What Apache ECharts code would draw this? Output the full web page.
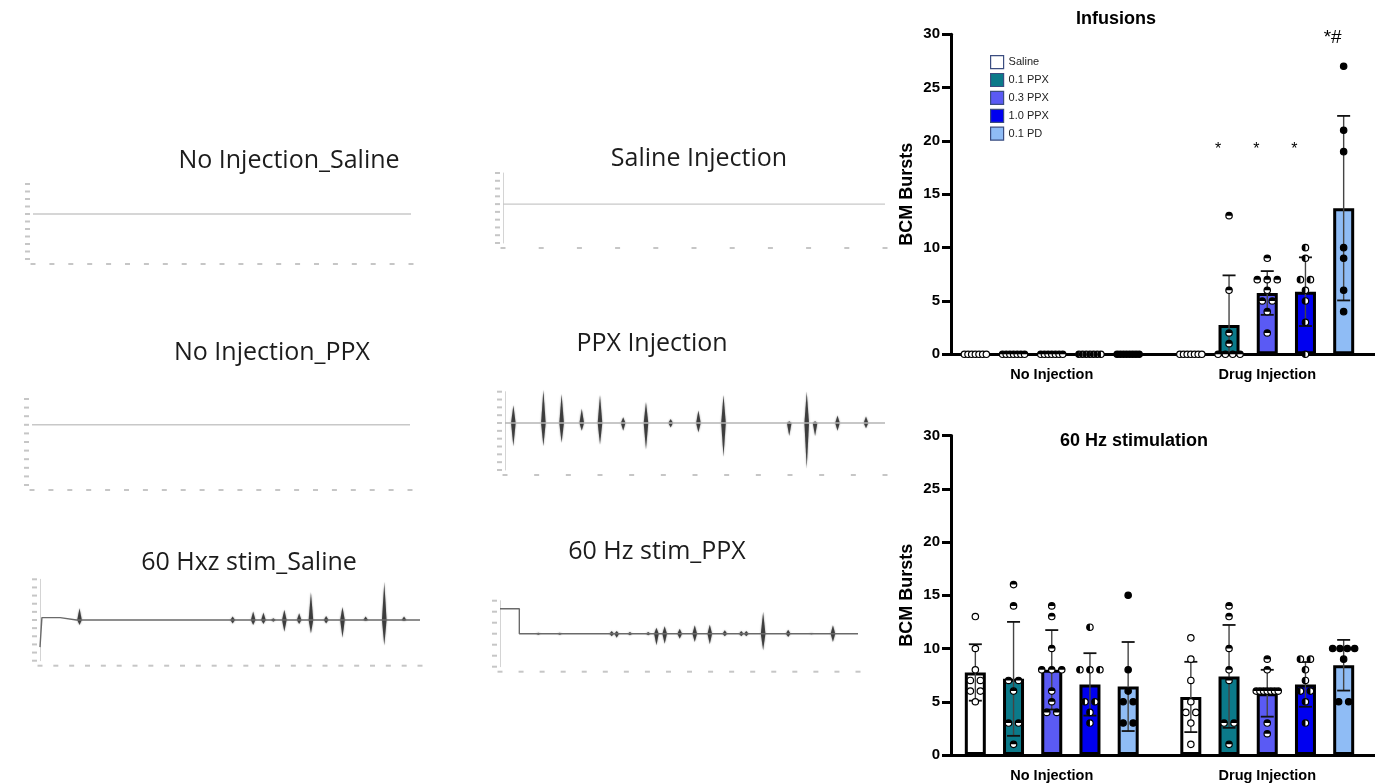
<!DOCTYPE html>
<html>
<head>
<meta charset="utf-8">
<title>BCM bursts</title>
<script src="https://cdn.jsdelivr.net/npm/echarts@6/dist/echarts.min.js"></script>
<style>
html, body { margin: 0; padding: 0; background: #fff; }
#main { width: 1375px; height: 783px; }
</style>
</head>
<body>
<div id="main"></div>
<script>
// groups and categories of the two bar charts
var groups = ['Saline', '0.1 PPX', '0.3 PPX', '1.0 PPX', '0.1 PD'];
var categories = ['No Injection', 'Drug Injection'];
var yMin = 0, yMax = 30, yStep = 5;

// Infusions: per group, [No Injection, Drug Injection]
var infMean = [[0, 0], [0, 2.75], [0, 5.75], [0, 5.87], [0, 13.7]];
var infSD = [[0, 0], [0, 4.65], [0, 2.05], [0, 3.22], [0, 8.65]];
var infPoints = [
    [[0, 0, 0, 0, 0, 0, 0], [0, 0, 0, 0, 0, 0, 0]],
    [[0, 0, 0, 0, 0, 0, 0], [13, 6, 2, 1, 0, 0, 0, 0]],
    [[0, 0, 0, 0, 0, 0, 0], [9, 7, 7, 7, 6, 5, 5, 4, 2]],
    [[0, 0, 0, 0, 0, 0, 0], [10, 9, 7, 7, 6, 5, 3, 0]],
    [[0, 0, 0, 0, 0, 0, 0, 0], [27, 21, 19, 10, 9, 6, 4]]
];
var sigMarks = ['', '*', '*', '*', '*#'];
var sigLevel = [0, 19.2, 19.2, 19.2, 29.7];

// 60 Hz stimulation
var stimMean = [[7.75, 5.45], [7.15, 7.38], [8.0, 5.8], [6.63, 6.63], [6.43, 8.43]];
var stimSD = [[2.65, 3.3], [5.35, 4.83], [3.73, 2.2], [2.93, 2.1], [4.18, 2.38]];
var stimPoints = [
    [[13, 10, 8, 7, 7, 6, 6, 5], [11, 9, 7, 5, 4, 4, 3, 1]],
    [[16, 14, 7, 7, 6, 3, 3, 1], [14, 13, 10, 8, 7, 3, 3, 1]],
    [[14, 13, 10, 8, 8, 8, 6, 5, 4, 4], [9, 8, 6, 6, 6, 6, 6, 6, 6, 3, 2]],
    [[12, 8, 8, 8, 5, 5, 4, 3], [9, 9, 8, 7, 6, 6, 5, 3]],
    [[15, 8, 6, 5, 5, 3, 3], [10, 10, 10, 10, 9, 5, 5]]
];

// recording traces: title, baseline [t, v], bursts [t, top, bottom], y range
var traceTitles = ['No Injection_Saline', 'Saline Injection', 'No Injection_PPX',
    'PPX Injection', '60 Hxz stim_Saline', '60 Hz stim_PPX'];
var traceBase = [
    [[0, 0], [100, 0]],
    [[0, 0], [100, 0]],
    [[0, 0], [100, 0]],
    [[0, 0], [100, 0]],
    [[0, -80], [0.5, -80], [0.5, 7], [5.3, 7], [9.6, 0], [100, 0]],
    [[0, 75], [5.4, 75], [5.4, 0], [100, 0]]
];
var traceBursts = [
    [], [], [],
    [[2.2, 52, -68], [10.1, 97, -68], [14.9, 85, -58], [20.2, 42, -23], [25, 82, -63],
     [31.1, 17, -23], [37.1, 62, -78], [43.6, 12, -13], [50.9, 37, -28], [57.5, 82, -98],
     [74.8, 5, -38], [79.4, 92, -133], [81.6, 5, -38], [87.5, 22, -23], [95, 19, -15]],
    [[10.4, 35, -15], [50.7, 10, -10], [56.1, 25, -15], [58.8, 22, -12], [61.4, 5, -5],
     [64.3, 30, -35], [68.2, 20, -12], [71.3, 82, -40], [75.3, 12, -10], [79.6, 38, -52],
     [85.7, 10, -3], [90.6, 112, -75], [95.8, 10, -3]],
    [[10.7, 3, -3], [16.7, 3, -3], [31.2, 8, -8], [32.6, 8, -12], [36.3, 5, -5],
     [41.4, 5, -5], [43.7, 18, -35], [46, 22, -30], [50.2, 15, -15], [54.4, 25, -25],
     [58.6, 27, -32], [62.8, 10, -8], [67.4, 8, -8], [68.8, 8, -8], [73.5, 65, -50],
     [80.5, 12, -10], [87, 2, -2], [93, 25, -25]]
];
var traceY = [[-60, 40, 10], [-50, 40, 10], [-70, 30, 10], [-138, 92, 23], [-120, 120, 24], [-99, 99, 33]];
var traceXStep = [5, 10, 5, 100 / 12, 100 / 24, 100 / 17];

// layout
var traceGrids = [
    {left: 33, top: 184, width: 378, height: 75},
    {left: 503, top: 173, width: 382, height: 70},
    {left: 32, top: 399, width: 378, height: 86},
    {left: 505, top: 391.7, width: 380, height: 78.3},
    {left: 40, top: 579.3, width: 380, height: 81.4},
    {left: 500, top: 600.7, width: 358, height: 66}
];
var traceTitleCenter = [[289, 160], [699, 158], [272, 352], [652, 343], [249, 562], [657, 551]];
var traceLine = ['#c8c8c8', '#c8c8c8', '#c8c8c8', '#b4b4b4', '#6a6a6a', '#6a6a6a'];
var traceAxisLine = [false, true, false, true, true, true];

var groupColors = ['#ffffff', '#0b7a8a', '#5a5af4', '#0000f0', '#8fbcf5'];
var barWidth = 21, barStep = 38.2;
var boldFont = 'Liberation Sans';

var chart = echarts.init(document.getElementById('main'));

// GraphPad style scatter: equal values are put side by side
var spread = function(values) {
    var counts = {}, seen = {}, out = [];
    values.forEach(function(v) { counts[v] = (counts[v] || 0) + 1; });
    values.forEach(function(v) {
        var n = counts[v];
        seen[v] = seen[v] === undefined ? 0 : seen[v] + 1;
        var gap = n > 1 ? Math.min(10, 22 / (n - 1)) : 0;
        out.push([v, (seen[v] - (n - 1) / 2) * gap]);
    });
    return out;
};

var renderErr = function(params, api) {
    var ci = api.value(0), mean = api.value(1), g = api.value(2), sd = api.value(3);
    if (!sd) return null;
    var x = api.coord([ci, mean])[0] + (g - 2) * barStep;
    var yHi = api.coord([ci, mean + sd])[1];
    var low = mean - sd;
    var yLo = api.coord([ci, Math.max(low, 0)])[1];
    var cap = 6.5;
    var kids = [
        {type: 'line', shape: {x1: x, y1: yHi, x2: x, y2: yLo}, style: {stroke: '#444', lineWidth: 1.4}},
        {type: 'line', shape: {x1: x - cap, y1: yHi, x2: x + cap, y2: yHi}, style: {stroke: '#111', lineWidth: 1.8}}
    ];
    if (low > 0) {
        kids.push({type: 'line', shape: {x1: x - cap, y1: yLo, x2: x + cap, y2: yLo}, style: {stroke: '#111', lineWidth: 1.8}});
    }
    return {type: 'group', children: kids};
};

var renderPoint = function(params, api) {
    var c = api.coord([api.value(0), api.value(1)]);
    var g = api.value(2);
    var x = c[0] + (g - 2) * barStep + api.value(3);
    var r = 3.2;
    var kids = [{type: 'circle', shape: {cx: x, cy: c[1], r: r},
        style: {fill: g === 4 ? '#000' : '#fff', stroke: '#000', lineWidth: 1.2}}];
    if (g === 1 || g === 2) {
        kids.push({type: 'sector', shape: {cx: x, cy: c[1], r0: 0, r: r, startAngle: Math.PI, endAngle: 2 * Math.PI}, style: {fill: '#000'}});
    } else if (g === 3) {
        kids.push({type: 'sector', shape: {cx: x, cy: c[1], r0: 0, r: r, startAngle: Math.PI / 2, endAngle: 3 * Math.PI / 2}, style: {fill: '#000'}});
    }
    return {type: 'group', children: kids};
};

var renderSig = function(params, api) {
    var g = api.value(2);
    var c = api.coord([api.value(0), api.value(1)]);
    return {type: 'text', x: c[0] + (g - 2) * barStep - 11, y: c[1],
        style: {text: sigMarks[g], fill: '#000', font: (g === 4 ? '19px ' : '16px ') + boldFont,
            align: 'center', verticalAlign: 'middle'}};
};

var renderBurst = function(params, api) {
    var mid = api.coord([api.value(0), 0]);
    var top = api.coord([api.value(0), api.value(1)]);
    var bot = api.coord([api.value(0), api.value(2)]);
    var w = 2.3;
    return {type: 'polygon',
        shape: {points: [[mid[0], top[1]], [mid[0] + w, mid[1]], [mid[0], bot[1]], [mid[0] - w, mid[1]]]},
        style: {fill: '#2b2b2b', opacity: 0.85, shadowBlur: 2, shadowColor: 'rgba(0,0,0,0.5)'}};
};

var smudge = {s: {width: 5, height: 2, backgroundColor: '#c6c6c6', fontSize: 2}};

var grids = [], xAxes = [], yAxes = [], series = [], titles = [];

traceTitles.forEach(function(t, i) {
    grids.push(traceGrids[i]);
    titles.push({text: t, left: traceTitleCenter[i][0], top: traceTitleCenter[i][1] - 12, textAlign: 'center', padding: 0,
        textStyle: {fontFamily: 'Open Sans', fontWeight: 'normal', fontSize: 25, color: '#1c1c1c'}});
    xAxes.push({type: 'value', gridIndex: i, min: 0, max: 100, interval: traceXStep[i],
        axisLine: {show: false}, axisTick: {show: false}, splitLine: {show: false},
        axisLabel: {margin: 4, formatter: function() { return '{s| }'; }, rich: smudge}});
    yAxes.push({type: 'value', gridIndex: i, min: traceY[i][0], max: traceY[i][1], interval: traceY[i][2],
        axisLine: {show: traceAxisLine[i], lineStyle: {color: '#d4d4d4', width: 1}},
        axisTick: {show: false}, splitLine: {show: false},
        axisLabel: {margin: 3, formatter: function() { return '{s| }'; }, rich: smudge}});
    series.push({type: 'line', xAxisIndex: i, yAxisIndex: i, data: traceBase[i], symbol: 'none',
        lineStyle: {color: traceLine[i], width: 1.4}, silent: true});
    if (traceBursts[i].length) {
        series.push({type: 'custom', xAxisIndex: i, yAxisIndex: i, renderItem: renderBurst,
            data: traceBursts[i], encode: {x: 0, y: [1, 2]}, silent: true});
    }
});

var barChart = function(ai, top, title, titleX, titleTop, means, sds, points) {
    grids.push({left: 944, top: top, width: 434, height: 320});
    titles.push({text: title, left: titleX, top: titleTop, textAlign: 'center', padding: 0,
        textStyle: {fontFamily: boldFont, fontWeight: 'bold', fontSize: 18, color: '#000'}});
    xAxes.push({type: 'category', gridIndex: ai, data: categories,
        axisLine: {lineStyle: {color: '#000', width: 3}},
        axisTick: {alignWithLabel: true, length: 7, lineStyle: {color: '#000', width: 3}},
        axisLabel: {color: '#000', fontWeight: 'bold', fontSize: 14.5, fontFamily: boldFont, margin: 13}});
    yAxes.push({type: 'value', gridIndex: ai, min: yMin, max: yMax, interval: yStep, offset: -7,
        name: 'BCM Bursts', nameLocation: 'middle', nameGap: 35,
        nameTextStyle: {fontSize: 18, fontWeight: 'bold', color: '#000', fontFamily: boldFont},
        axisLine: {show: true, lineStyle: {color: '#000', width: 3}},
        axisTick: {show: true, length: 9, lineStyle: {color: '#000', width: 3}},
        axisLabel: {color: '#000', fontWeight: 'bold', fontSize: 15, fontFamily: boldFont, margin: 11},
        splitLine: {show: false}});
    groups.forEach(function(name, g) {
        series.push({name: name, type: 'bar', xAxisIndex: ai, yAxisIndex: ai, barWidth: barWidth, barGap: '82%',
            data: means[g], itemStyle: {color: groupColors[g], borderColor: '#000', borderWidth: 3}, silent: true});
    });
    var errData = [], ptData = [];
    groups.forEach(function(name, g) {
        categories.forEach(function(c, ci) {
            errData.push([ci, means[g][ci], g, sds[g][ci]]);
            spread(points[g][ci]).forEach(function(p) { ptData.push([ci, p[0], g, p[1]]); });
        });
    });
    series.push({type: 'custom', xAxisIndex: ai, yAxisIndex: ai, renderItem: renderErr, data: errData,
        encode: {x: 0, y: 1}, z: 3, silent: true});
    series.push({type: 'custom', xAxisIndex: ai, yAxisIndex: ai, renderItem: renderPoint, data: ptData,
        encode: {x: 0, y: 1}, z: 4, silent: true});
};

barChart(6, 34.3, 'Infusions', 1116, 10, infMean, infSD, infPoints);
barChart(7, 435.5, '60 Hz stimulation', 1134, 432, stimMean, stimSD, stimPoints);

var sigData = [];
sigMarks.forEach(function(m, g) { if (m) sigData.push([1, sigLevel[g], g]); });
series.push({type: 'custom', xAxisIndex: 6, yAxisIndex: 6, renderItem: renderSig, data: sigData,
    encode: {x: 0, y: 1}, z: 5, silent: true});

option = {
    backgroundColor: '#fff',
    animation: false,
    title: titles,
    legend: {
        data: groups, orient: 'vertical', left: 990, top: 55, padding: 0,
        itemWidth: 13, itemHeight: 13, itemGap: 3.7, icon: 'rect', selectedMode: false,
        itemStyle: {borderColor: '#3b4d80', borderWidth: 1.2},
        textStyle: {fontSize: 11, fontFamily: boldFont, color: '#222'}
    },
    grid: grids,
    xAxis: xAxes,
    yAxis: yAxes,
    series: series
};

chart.setOption(option);
</script>
</body>
</html>
